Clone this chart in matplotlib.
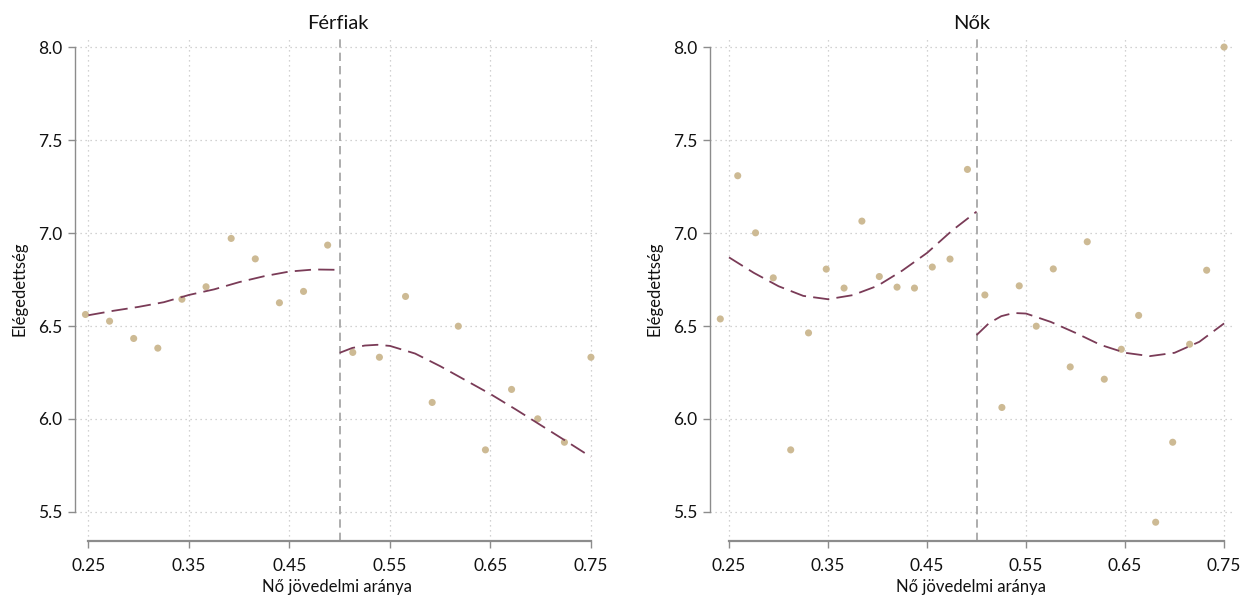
import numpy as np
import matplotlib
matplotlib.use("Agg")
import matplotlib.pyplot as plt

plt.rcParams['font.family'] = ['Lato', 'DejaVu Sans']

# binned means, men
men_x = [0.247, 0.271, 0.295, 0.319, 0.343, 0.367, 0.392, 0.416, 0.440, 0.464, 0.488,
         0.513, 0.5395, 0.5655, 0.592, 0.618, 0.645, 0.671, 0.697, 0.7236, 0.75]
men_y = [6.562, 6.526, 6.433, 6.381, 6.644, 6.711, 6.971, 6.861, 6.625, 6.686, 6.935,
         6.358, 6.332, 6.659, 6.089, 6.499, 5.834, 6.159, 6.001, 5.875, 6.332]

# binned means, women
women_x = [0.2412, 0.2588, 0.2768, 0.2947, 0.3123, 0.3303, 0.3482, 0.3662, 0.3842, 0.4018,
           0.4197, 0.4373, 0.4553, 0.4732, 0.4908,
           0.5084, 0.5256, 0.5431, 0.5603, 0.5775, 0.5946, 0.6118, 0.629, 0.6462, 0.6637,
           0.6809, 0.6981, 0.7152, 0.7324, 0.75]
women_y = [6.538, 7.308, 7.001, 6.759, 5.834, 6.463, 6.806, 6.704, 7.064, 6.766,
           6.709, 6.704, 6.817, 6.860, 7.342,
           6.667, 6.062, 6.716, 6.499, 6.807, 6.280, 6.953, 6.214, 6.375, 6.557,
           5.445, 5.875, 6.402, 6.800, 8.000]

# fitted curves
fit_left_x = [0.25, 0.275, 0.30, 0.325, 0.35, 0.375, 0.40, 0.425, 0.45, 0.475, 0.50]
fit_right_x = [0.50, 0.5125, 0.525, 0.5375, 0.55, 0.575, 0.60, 0.625, 0.65, 0.675, 0.70, 0.725, 0.75]
men_fit_left = [6.558, 6.582, 6.603, 6.628, 6.667, 6.697, 6.736, 6.768, 6.793, 6.804, 6.802]
men_fit_right = [6.356, 6.382, 6.395, 6.399, 6.393, 6.352, 6.284, 6.209, 6.134, 6.052, 5.967, 5.882, 5.796]
women_fit_left = [6.869, 6.786, 6.714, 6.662, 6.644, 6.666, 6.716, 6.798, 6.893, 7.012, 7.115]
women_fit_right = [6.451, 6.515, 6.553, 6.570, 6.567, 6.522, 6.463, 6.399, 6.356, 6.338, 6.356, 6.415, 6.514]

x_ticks = [0.25, 0.35, 0.45, 0.55, 0.65, 0.75]
x_ticklabels = ["0.25", "0.35", "0.45", "0.55", "0.65", "0.75"]
y_ticks = [5.5, 6.0, 6.5, 7.0, 7.5, 8.0]
y_ticklabels = ["5.5", "6.0", "6.5", "7.0", "7.5", "8.0"]

dot_col = "#CDBA94"
fit_col = "#7A3B57"
axis_col = "#8C8C8C"

fig = plt.figure(figsize=(12.52, 6.01), dpi=100)
W, H = 1252, 601

panels = [
    ("Férfiak", men_x, men_y, men_fit_left, men_fit_right, 75, 600, 0.2366),
    ("Nők", women_x, women_y, women_fit_left, women_fit_right, 710, 1233, 0.2308),
]

for title, xs, ys, fl, fr, px0, px1, xlo in panels:
    ax = fig.add_axes([px0 / W, (H - 541) / H, (px1 - px0) / W, (541 - 37) / H])
    ax.set_xlim(xlo, 0.759)
    ax.set_ylim(5.344, 8.054)

    for t in x_ticks:
        ax.axvline(t, color="#C4C4C4", lw=0.9, ls=(0, (1, 3)), zorder=0)
    for t in y_ticks:
        ax.axhline(t, color="#C4C4C4", lw=0.9, ls=(0, (1, 3)), zorder=0)

    ax.axvline(0.5, color="#A0A0A0", lw=1.2, ls=(0, (5, 3)), zorder=1)

    ax.scatter(xs, ys, s=26, color=dot_col, edgecolors="none", zorder=3)
    ax.plot(fit_left_x, fl, color=fit_col, lw=1.3, ls=(0, (9, 4)), zorder=4)
    ax.plot(fit_right_x, fr, color=fit_col, lw=1.3, ls=(0, (9, 4)), zorder=4)

    ax.set_xticks(x_ticks)
    ax.set_xticklabels(x_ticklabels)
    ax.set_yticks(y_ticks)
    ax.set_yticklabels(y_ticklabels)
    ax.tick_params(axis="both", direction="out", length=5, width=1, color=axis_col,
                   labelsize=12.5, labelcolor="#111111")
    ax.tick_params(axis="x", pad=7)
    ax.tick_params(axis="y", pad=4)

    for s in ["top", "right"]:
        ax.spines[s].set_visible(False)
    ax.spines["left"].set_bounds(5.5, 8.0)
    ax.spines["bottom"].set_bounds(0.25, 0.75)
    ax.spines["left"].set_color(axis_col)
    ax.spines["bottom"].set_color(axis_col)
    ax.spines["left"].set_linewidth(1.0)
    ax.spines["bottom"].set_linewidth(1.6)

    ax.set_title(title, fontsize=14.5, color="#111111", pad=6)
    ax.set_xlabel("Nő jövedelmi aránya", fontsize=12, color="#111111", labelpad=4)
    ax.set_ylabel("Elégedettség", fontsize=12, color="#111111", labelpad=8)

fig.savefig("out.png", dpi=100)
